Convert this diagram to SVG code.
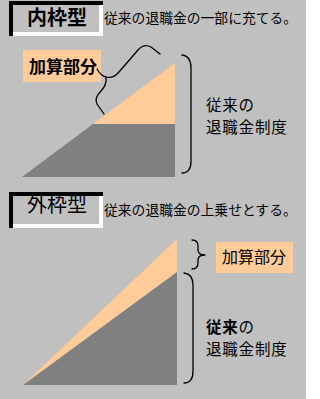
<svg xmlns="http://www.w3.org/2000/svg" width="320" height="399" viewBox="0 0 320 399">
<style>
text{font-family:"Noto Sans CJK JP","Noto Sans CJK SC",sans-serif;fill:#000}
.peach{fill:#FFCC99}
.dark{fill:#808080}
.brace{fill:none;stroke:#000;stroke-width:1.3;stroke-linecap:round;stroke-linejoin:round}
.title{font-size:20px}
.desc{font-size:13.8px}
.lbl{font-size:16px}
.lbl2{font-size:15.5px;letter-spacing:0.8px}
</style>
<rect x="0" y="0" width="306" height="399" fill="#C0C0C0"/>
<g id="title-inner">
<path d="M9,1 H103 V36 H9 Z" fill="#C0C0C0"/>
<path d="M103,1 V36 H9 V32 H99 V1 Z" fill="#fff"/>
<path d="M9,1 H103 V5 H13 V36 H9 Z" fill="#000"/>
<text class="title" x="27" y="25" font-weight="bold">内枠型</text>
<text class="desc" x="104" y="23">従来の退職金の一部に充てる。</text>
</g>
<g id="chart-inner">
<polygon class="peach" points="93,124 175,63 175,124"/>
<polygon class="dark" points="22,177 93,124 175,124 175,177"/>
</g>
<g id="label-inner-add">
<rect x="23" y="50" width="78" height="32" fill="#FFCC99"/>
<text x="29" y="73" font-size="17" font-weight="bold">加算部分</text>
</g>
<g id="label-inner-old">
<text class="lbl2" x="206" y="110.5">従来の</text>
<text class="lbl2" x="206" y="133">退職金制度</text>
</g>
<g id="title-outer">
<path d="M9,192 H103 V228 H9 Z" fill="#C0C0C0"/>
<path d="M103,192 V228 H9 V224 H99 V192 Z" fill="#fff"/>
<path d="M9,192 H103 V196 H13 V228 H9 Z" fill="#000"/>
<text class="title" x="27" y="212">外枠型</text>
<text class="desc" x="104" y="215">従来の退職金の上乗せとする。</text>
</g>
<g id="chart-outer">
<polygon class="peach" points="23,385 177,239 177,385"/>
<polygon class="dark" points="23,385 177,272 177,385"/>
</g>
<g id="label-outer-add">
<rect x="216" y="242" width="77" height="31" fill="#FFCC99"/>
<text class="lbl" x="222" y="263">加算部分</text>
</g>
<g id="label-outer-old">
<text class="lbl2" x="206" y="332.5"><tspan font-weight="bold">従来</tspan>の</text>
<text class="lbl2" x="206" y="355">退職金制度</text>
</g>
<g id="connectors">
<path class="brace" d="M97,69 Q101,76 106,77 Q113,79 119,72 L138,50 Q144,43 151,47 L160,54"/>
<path class="brace" d="M106,77 Q107,85 101,91 Q94,98 97,104 L104,114"/>
<path class="brace" d="M182,55 Q191,56 191,68 V161 Q191,173 182,173"/>
<path class="brace" d="M192,240 Q198,240 198,246 V250 Q198,255 205,255 Q198,255 198,260 V263 Q198,269 192,269"/>
<path class="brace" d="M184,273 Q193,274 193,285 V371 Q193,383 184,383"/>
</g>
</svg>
